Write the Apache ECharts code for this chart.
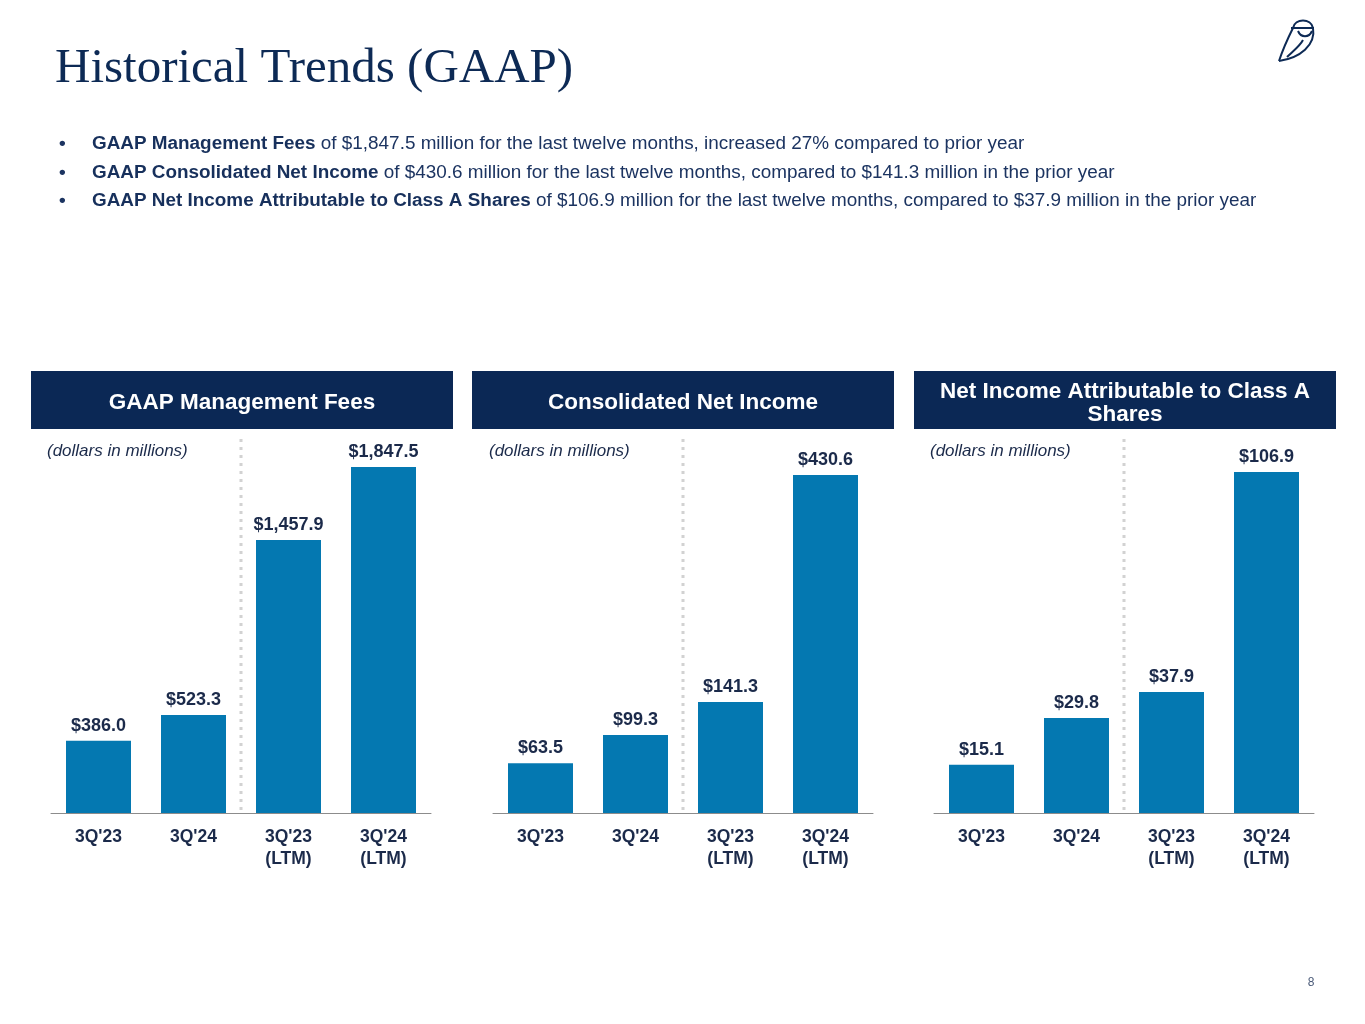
<!DOCTYPE html>
<html><head><meta charset="utf-8">
<script src="https://cdn.jsdelivr.net/npm/echarts@6/dist/echarts.min.js"></script>
<style>html,body{margin:0;padding:0;background:#fff}#c{width:1365px;height:1024px}</style>
</head><body><div id="c"></div>
<script>
var categories = ["3Q'23", "3Q'24", "3Q'23\n(LTM)", "3Q'24\n(LTM)"];
var mgmtFees = [386.0, 523.3, 1457.9, 1847.5];
var netIncome = [63.5, 99.3, 141.3, 430.6];
var classA = [15.1, 29.8, 37.9, 106.9];
var panelTitles = ["GAAP Management Fees", "Consolidated Net Income", "Net Income Attributable to Class A\nShares"];

var NAVY = '#0b2855', BAR = '#0478b1', TXT = '#1b2a4a';
var FONT = '"Liberation Sans", Arial, sans-serif';
var chart = echarts.init(document.getElementById('c'));

var grids = [
  {left: 51, width: 380, top: 467, bottom: 211},
  {left: 493, width: 380, top: 475, bottom: 211},
  {left: 934, width: 380, top: 472, bottom: 211}
];
var datasets = [mgmtFees, netIncome, classA];
var boxes = [[31, 453], [472, 894], [914, 1336]];

function fmt(v){
  return '$' + v.toLocaleString('en-US', {minimumFractionDigits: 1, maximumFractionDigits: 1});
}

var xAxes = [], yAxes = [], series = [], graphics = [];
for (var i = 0; i < 3; i++) {
  xAxes.push({
    gridIndex: i, type: 'category', data: categories,
    axisLine: {lineStyle: {color: '#8c8c8c', width: 1}},
    axisTick: {show: false},
    axisLabel: {color: TXT, fontFamily: FONT, fontWeight: 'bold', fontSize: 17.5, lineHeight: 22, margin: 13}
  });
  yAxes.push({
    gridIndex: i, type: 'value', min: 0, max: function(v){ return v.max; },
    show: false, splitLine: {show: false}
  });
  series.push({
    type: 'bar', xAxisIndex: i, yAxisIndex: i, data: datasets[i],
    barWidth: 65, itemStyle: {color: BAR},
    label: {show: true, position: 'top', distance: 6, color: TXT, fontFamily: FONT,
      fontWeight: 'bold', fontSize: 18, formatter: function(p){ return fmt(p.value); }}
  });
  graphics.push({type: 'rect', shape: {x: boxes[i][0], y: 371, width: boxes[i][1] - boxes[i][0], height: 58},
    style: {fill: NAVY}});
  graphics.push({type: 'text', x: (boxes[i][0] + boxes[i][1]) / 2, y: 403,
    style: {text: panelTitles[i], fill: '#fff', font: 'bold 22.5px ' + FONT, align: 'center',
      verticalAlign: 'middle', lineHeight: 23}});
  graphics.push({type: 'text', x: grids[i].left - 4, y: 451,
    style: {text: '(dollars in millions)', fill: TXT, font: 'italic 17px ' + FONT, verticalAlign: 'middle'}});
  var sx = grids[i].left + 190;
  graphics.push({type: 'line', shape: {x1: sx, y1: 439, x2: sx, y2: 812},
    style: {stroke: '#d2d2d2', lineWidth: 3, lineDash: [3, 5]}});
}

graphics.push({type: 'text', x: 55, y: 69,
  style: {text: 'Historical Trends (GAAP)', fill: '#0d2a55', font: '49px "Liberation Serif", "DejaVu Serif", serif', verticalAlign: 'middle'}});

var bullets = [
  ['GAAP Management Fees', ' of $1,847.5 million for the last twelve months, increased 27% compared to prior year'],
  ['GAAP Consolidated Net Income', ' of $430.6 million for the last twelve months, compared to $141.3 million in the prior year'],
  ['GAAP Net Income Attributable to Class A Shares', ' of $106.9 million for the last twelve months, compared to $37.9 million in the prior year']
];
var bulletY = [144, 173, 201];
for (var b = 0; b < bullets.length; b++) {
  graphics.push({type: 'text', x: 59, y: bulletY[b],
    style: {text: '•', fill: '#1c3461', font: 'bold 19px ' + FONT, verticalAlign: 'middle'}});
  graphics.push({type: 'text', x: 92, y: bulletY[b],
    style: {text: '{b|' + bullets[b][0] + '}{n|' + bullets[b][1] + '}', verticalAlign: 'middle',
      rich: {b: {fontFamily: FONT, fontWeight: 'bold', fontSize: 18.9, fill: '#17305c'},
             n: {fontFamily: FONT, fontSize: 18.9, fill: '#1c3461'}}}});
}

graphics.push({type: 'text', x: 1311, y: 983,
  style: {text: '8', fill: '#4a5a78', font: '12px ' + FONT, align: 'center', verticalAlign: 'middle'}});

// Owl logo (decorative)
var OWL = {fill: 'none', stroke: '#0d2a55', lineWidth: 2};
graphics.push({type: 'group', x: 1270, y: 15, children: [
  {type: 'bezierCurve', shape: {x1: 23, y1: 13, x2: 43, y2: 13, cpx1: 25, cpy1: 3, cpx2: 41, cpy2: 3}, style: OWL},
  {type: 'line', shape: {x1: 21, y1: 13, x2: 44, y2: 13}, style: OWL},
  {type: 'bezierCurve', shape: {x1: 28, y1: 16, x2: 42, y2: 16, cpx1: 31, cpy1: 23, cpx2: 39, cpy2: 23}, style: OWL},
  {type: 'bezierCurve', shape: {x1: 23, y1: 13, x2: 9, y2: 46, cpx1: 17, cpy1: 25, cpx2: 12, cpy2: 37}, style: OWL},
  {type: 'bezierCurve', shape: {x1: 43, y1: 13, x2: 9, y2: 46, cpx1: 46, cpy1: 30, cpx2: 30, cpy2: 43}, style: OWL},
  {type: 'bezierCurve', shape: {x1: 17, y1: 42, x2: 33, y2: 25, cpx1: 22, cpy1: 37, cpx2: 30, cpy2: 31}, style: OWL}
]});

chart.setOption({
  animation: false,
  grid: grids,
  xAxis: xAxes,
  yAxis: yAxes,
  series: series,
  graphic: graphics
});
</script></body></html>
